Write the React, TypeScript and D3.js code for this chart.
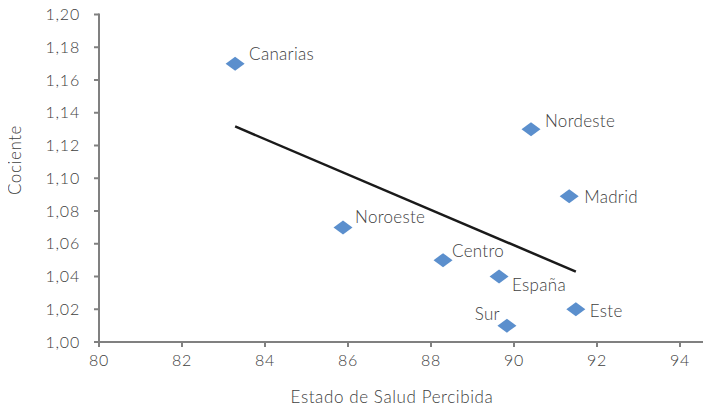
import { useEffect, useRef } from 'react';
import * as d3 from 'd3';

// region data
const regions = ['Canarias', 'Nordeste', 'Madrid', 'Noroeste', 'Centro', 'España', 'Este', 'Sur'];
const saludValues = [83.28, 90.41, 91.33, 85.88, 88.29, 89.64, 91.49, 89.83];
const cocienteValues = [1.17, 1.13, 1.089, 1.07, 1.05, 1.04, 1.02, 1.01];
// label offsets relative to the marker (dx, dy, anchor)
const labelPlacement = [
  [14, -10, 'start'], [14, -8, 'start'], [15, 1, 'start'], [12, -10, 'start'],
  [9, -9, 'start'], [13, 9, 'start'], [14, 2, 'start'], [-7, -12, 'end'],
];
const xTicks = [80, 82, 84, 86, 88, 90, 92, 94];
const yTicks = [1.0, 1.02, 1.04, 1.06, 1.08, 1.1, 1.12, 1.14, 1.16, 1.18, 1.2];

const FONT = 'Lato, "Open Sans", sans-serif';
const TEXT = '#404040';
const AXIS = '#808080';

const Chart = () => {
  const svgRef = useRef<SVGSVGElement>(null);

  useEffect(() => {
    const svg = d3.select(svgRef.current);
    svg.selectAll('*').remove();

    const x = d3.scaleLinear().domain([80, 95]).range([99, 721.5]);
    const y = d3.scaleLinear().domain([1.0, 1.2]).range([342, 14.5]);

    // axes
    svg.append('line')
      .attr('x1', x(80)).attr('x2', 711)
      .attr('y1', y(1)).attr('y2', y(1))
      .attr('stroke', AXIS).attr('stroke-width', 2);
    svg.append('line')
      .attr('x1', x(80)).attr('x2', x(80))
      .attr('y1', y(1.2) - 1).attr('y2', y(1) + 1)
      .attr('stroke', AXIS).attr('stroke-width', 2);

    const xt = svg.append('g');
    xTicks.forEach(t => {
      xt.append('line')
        .attr('x1', x(t)).attr('x2', x(t))
        .attr('y1', y(1)).attr('y2', y(1) + 5)
        .attr('stroke', AXIS).attr('stroke-width', 2);
      xt.append('text')
        .attr('x', x(t)).attr('y', y(1) + 24)
        .attr('text-anchor', 'middle')
        .attr('font-family', FONT).attr('font-size', 16).attr('font-weight', 300)
        .attr('letter-spacing', 0.8)
        .attr('fill', TEXT)
        .text(t);
    });

    const yt = svg.append('g');
    yTicks.forEach(t => {
      yt.append('line')
        .attr('x1', x(80) - 5).attr('x2', x(80))
        .attr('y1', y(t)).attr('y2', y(t))
        .attr('stroke', AXIS).attr('stroke-width', 2);
      yt.append('text')
        .attr('x', x(80) - 19).attr('y', y(t)).attr('dy', '0.35em')
        .attr('text-anchor', 'end')
        .attr('font-family', FONT).attr('font-size', 16).attr('font-weight', 300)
        .attr('letter-spacing', 0.8)
        .attr('fill', TEXT)
        .text(d3.format('.2f')(t).replace('.', ','));
    });

    // axis titles
    svg.append('text')
      .attr('x', 392).attr('y', 403)
      .attr('text-anchor', 'middle')
      .attr('font-family', FONT).attr('font-size', 17).attr('font-weight', 300)
      .attr('letter-spacing', 0.6)
      .attr('fill', TEXT)
      .text('Estado de Salud Percibida');
    svg.append('text')
      .attr('transform', `translate(21,160) rotate(-90)`)
      .attr('text-anchor', 'middle')
      .attr('font-family', FONT).attr('font-size', 17).attr('font-weight', 300)
      .attr('letter-spacing', 0.6)
      .attr('fill', TEXT)
      .text('Cociente');

    // linear trend (least squares over all points)
    const mx = d3.mean(saludValues)!;
    const my = d3.mean(cocienteValues)!;
    let sxy = 0, sxx = 0;
    saludValues.forEach((v, i) => {
      sxy += (v - mx) * (cocienteValues[i] - my);
      sxx += (v - mx) * (v - mx);
    });
    const slope = sxy / sxx;
    const [x0, x1] = d3.extent(saludValues) as [number, number];
    const trend = (v: number) => my + slope * (v - mx);
    svg.append('line')
      .attr('x1', x(x0)).attr('y1', y(trend(x0)))
      .attr('x2', x(x1)).attr('y2', y(trend(x1)))
      .attr('stroke', '#1a1a1a').attr('stroke-width', 2.5);

    // markers
    const diamond = 'M0,-7 L9.5,0 L0,7 L-9.5,0 Z';
    regions.forEach((name, i) => {
      const px = x(saludValues[i]);
      const py = y(cocienteValues[i]);
      svg.append('path')
        .attr('d', diamond)
        .attr('transform', `translate(${px},${py})`)
        .attr('fill', '#5b8fcd');
      const [dx, dy, anchor] = labelPlacement[i];
      svg.append('text')
        .attr('x', px + (dx as number)).attr('y', py + (dy as number))
        .attr('dy', '0.35em')
        .attr('text-anchor', anchor as string)
        .attr('font-family', FONT).attr('font-size', 17).attr('font-weight', 300)
        .attr('letter-spacing', 0.3)
        .attr('fill', TEXT)
        .text(name);
    });
  }, []);

  return <svg ref={svgRef} width={711} height={411} style={{ display: 'block' }}></svg>;
};

export default function App() {
  return (
    <div style={{ margin: -8, width: 711, height: 411, background: '#fff' }}>
      <Chart />
    </div>
  );
}
